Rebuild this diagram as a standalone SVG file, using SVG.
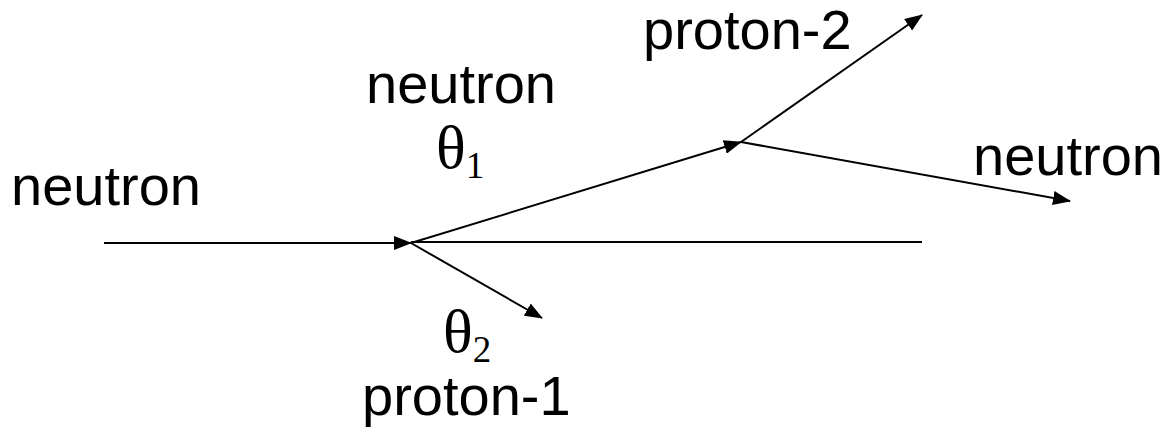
<svg xmlns="http://www.w3.org/2000/svg" width="1172" height="432" viewBox="0 0 1172 432">
<style>
.lbl{font-family:"Liberation Sans",Arial,sans-serif;font-size:56px;fill:#000}
.th{font-family:"Liberation Serif","Times New Roman",serif;font-size:62px;fill:#000}
.sub{font-size:37px}
.ln{stroke:#000;stroke-width:2;fill:none}
</style>
<defs>
<marker id="arr" markerUnits="userSpaceOnUse" markerWidth="18" markerHeight="14" refX="17" refY="7" orient="auto">
<path d="M0,0 L18,7 L0,14 z" fill="#000"/>
</marker>
</defs>
<rect width="1172" height="432" fill="#fff"/>
<g id="connectors">
<line class="ln" x1="104" y1="243" x2="411" y2="243" marker-end="url(#arr)"/>
<line class="ln" x1="411" y1="242" x2="922" y2="242"/>
<line class="ln" x1="411" y1="243" x2="741" y2="142" marker-end="url(#arr)"/>
<line class="ln" x1="741" y1="142" x2="922" y2="15" marker-end="url(#arr)"/>
<line class="ln" x1="741" y1="142" x2="1070" y2="201" marker-end="url(#arr)"/>
<line class="ln" x1="411" y1="243" x2="542" y2="318" marker-end="url(#arr)"/>
</g>
<g id="neutron-in"><text class="lbl" x="11" y="205">neutron</text></g>
<g id="neutron-mid"><text class="lbl" x="366" y="103">neutron</text></g>
<g id="theta1"><text class="th" x="436" y="168">θ<tspan class="sub" dy="10">1</tspan></text></g>
<g id="proton-2"><text class="lbl" x="643" y="49">proton-2</text></g>
<g id="neutron-out"><text class="lbl" x="973" y="175">neutron</text></g>
<g id="theta2"><text class="th" x="443" y="352">θ<tspan class="sub" dy="10">2</tspan></text></g>
<g id="proton-1"><text class="lbl" x="362" y="415">proton-1</text></g>
</svg>
